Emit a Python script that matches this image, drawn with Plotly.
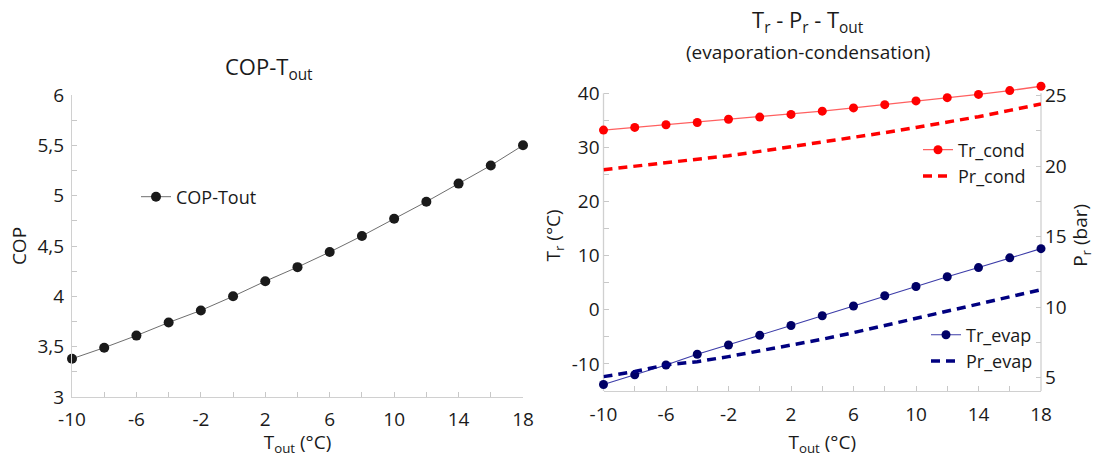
import plotly.graph_objects as go

W, H = 1101, 457

t_out = [-10, -8, -6, -4, -2, 0, 2, 4, 6, 8, 10, 12, 14, 16, 18]
cop = [3.38, 3.49, 3.61, 3.74, 3.86, 4.00, 4.15, 4.29, 4.44, 4.60, 4.77, 4.94, 5.12, 5.30, 5.50]
tr_cond = [33.2, 33.7, 34.2, 34.6, 35.2, 35.6, 36.1, 36.7, 37.3, 37.9, 38.6, 39.2, 39.8, 40.5, 41.3]
pr_cond = [19.75, 19.99, 20.22, 20.48, 20.74, 21.05, 21.38, 21.69, 22.02, 22.38, 22.75, 23.13, 23.51, 23.96, 24.41]
tr_evap = [-13.8, -12.0, -10.2, -8.2, -6.5, -4.7, -2.9, -1.1, 0.7, 2.6, 4.3, 6.1, 7.8, 9.6, 11.3]
pr_evap = [5.07, 5.43, 5.90, 6.13, 6.49, 6.89, 7.29, 7.72, 8.19, 8.69, 9.18, 9.68, 10.20, 10.72, 11.24]

x_ticks = list(range(-10, 19, 2))
x_labels = [str(v) if (v + 10) % 4 == 0 else "" for v in x_ticks]
cop_ticks = [3 + 0.25 * i for i in range(13)]
cop_labels = [(("%g" % v).replace(".", ",") if (v * 2) % 1 == 0 else "") for v in cop_ticks]
tr_ticks = list(range(-15, 41, 5))
tr_labels = [str(v) if v % 10 == 0 else "" for v in tr_ticks]
pr_ticks = [5 + 2.5 * i for i in range(9)]
pr_labels = [("%g" % v if v % 5 == 0 else "") for v in pr_ticks]

# axis extents (drawn axis lines stop at these values)
TR_MIN, TR_MAX = -15, 40
PR_MIN = 4.05

FONT = "Open Sans"
AX_LINE = "#d0d0d0"
TICK_C = "#c8c8c8"
TXT = "#1a1a1a"
TICK_SIZE = 19
AXT_SIZE = 19


def px(x):
    return x / W


def py(y):
    return 1 - y / H


fig = go.Figure()

fig.add_trace(go.Scatter(
    x=t_out, y=cop, name="COP-Tout", mode="lines+markers",
    line=dict(color="#6e6e6e", width=1),
    marker=dict(color="#1a1a1a", size=10),
    cliponaxis=False, xaxis="x", yaxis="y", legend="legend"))

fig.add_trace(go.Scatter(
    x=t_out, y=tr_cond, name="Tr_cond", mode="lines+markers",
    line=dict(color="#ff6060", width=1.3),
    marker=dict(color="#ff0000", size=9),
    cliponaxis=False, xaxis="x2", yaxis="y2", legend="legend2"))
fig.add_trace(go.Scatter(
    x=t_out, y=pr_cond, name="Pr_cond", mode="lines",
    line=dict(color="#ff0000", width=3.5, dash="9px,6px"),
    cliponaxis=False, xaxis="x2", yaxis="y3", legend="legend2"))
fig.add_trace(go.Scatter(
    x=t_out, y=tr_evap, name="Tr_evap", mode="lines+markers",
    line=dict(color="#3c3ca8", width=1.1),
    marker=dict(color="#000066", size=9),
    cliponaxis=False, xaxis="x2", yaxis="y2", legend="legend3"))
fig.add_trace(go.Scatter(
    x=t_out, y=pr_evap, name="Pr_evap", mode="lines",
    line=dict(color="#000080", width=3.5, dash="9px,6px"),
    cliponaxis=False, xaxis="x2", yaxis="y3", legend="legend3"))

axis_common = dict(
    showgrid=False, zeroline=False, showline=True, linecolor=AX_LINE, linewidth=1.3,
    ticks="inside", ticklen=5, tickcolor=TICK_C, tickwidth=1, automargin=False,
    tickfont=dict(family=FONT, size=TICK_SIZE, color=TXT), tickmode="array",
)

# right subplot: the plotting area extends a little above 40 °C so the top
# markers are not hidden; the axis lines are drawn only up to 40 °C
px_per_tr = (391 - 93.3) / (TR_MAX - TR_MIN)
tr_top = TR_MAX + 2.5
top_px = 93.3 - 2.5 * px_per_tr
pr_per_px = 1 / 14.1
pr_top = 25.17 + (93.3 - top_px) * pr_per_px

fig.update_layout(
    width=W, height=H,
    margin=dict(l=0, r=0, t=0, b=0),
    paper_bgcolor="white", plot_bgcolor="white",
    font=dict(family=FONT, color=TXT),
    xaxis=dict(axis_common, domain=[px(72), px(523)], range=[-10, 18], anchor="y",
               tickvals=x_ticks, ticktext=x_labels, ticklabelstandoff=5,
               title=dict(text="T<sub>out</sub> (°C)", font=dict(size=AXT_SIZE), standoff=8)),
    yaxis=dict(axis_common, domain=[py(397), py(95)], range=[3, 6], anchor="x",
               tickvals=cop_ticks, ticktext=cop_labels, ticklabelstandoff=3,
               title=dict(text="COP", font=dict(size=AXT_SIZE), standoff=5)),
    xaxis2=dict(axis_common, domain=[px(603.5), px(1041)], range=[-10, 18], anchor="y2",
                tickvals=x_ticks, ticktext=x_labels, ticklabelstandoff=6,
                title=dict(text="T<sub>out</sub> (°C)", font=dict(size=AXT_SIZE), standoff=10)),
    yaxis2=dict(axis_common, domain=[py(391), py(top_px)], range=[TR_MIN, tr_top], anchor="x2",
                showline=False,
                tickvals=tr_ticks, ticktext=tr_labels, ticklabelstandoff=3,
                title=dict(text="T<sub>r</sub> (°C)", font=dict(size=AXT_SIZE), standoff=5)),
    yaxis3=dict(axis_common, overlaying="y2", side="right", anchor="x2", showline=False,
                range=[PR_MIN, pr_top], tickvals=pr_ticks, ticktext=pr_labels, ticklabelstandoff=3,
                title=dict(text="P<sub>r</sub> (bar)", font=dict(size=AXT_SIZE), standoff=5)),
    shapes=[
        dict(type="line", xref="x2 domain", x0=0, x1=0, yref="y2", y0=TR_MIN, y1=TR_MAX,
             line=dict(color=AX_LINE, width=1.3), layer="below"),
        dict(type="line", xref="x2 domain", x0=1, x1=1, yref="y2", y0=TR_MIN, y1=TR_MAX,
             line=dict(color=AX_LINE, width=1.3), layer="below"),
    ],
    legend=dict(x=px(136), y=py(197), xanchor="left", yanchor="middle",
                bgcolor="rgba(0,0,0,0)", font=dict(family=FONT, size=18, color=TXT)),
    legend2=dict(x=px(918), y=py(163), xanchor="left", yanchor="middle",
                 bgcolor="rgba(0,0,0,0)", font=dict(family=FONT, size=18, color=TXT)),
    legend3=dict(x=px(926), y=py(348), xanchor="left", yanchor="middle",
                 bgcolor="rgba(0,0,0,0)", font=dict(family=FONT, size=18, color=TXT)),
    annotations=[
        dict(text="COP-T<sub>out</sub>", x=px(269), y=py(68), xref="paper", yref="paper",
             showarrow=False, xanchor="center", yanchor="middle",
             font=dict(family=FONT, size=22, color=TXT)),
        dict(text="T<sub>r</sub> - P<sub>r</sub> - T<sub>out</sub>", x=px(808), y=py(21),
             xref="paper", yref="paper", showarrow=False, xanchor="center", yanchor="middle",
             font=dict(family=FONT, size=22, color=TXT)),
        dict(text="(evaporation-condensation)", x=px(808), y=py(52),
             xref="paper", yref="paper", showarrow=False, xanchor="center", yanchor="middle",
             font=dict(family=FONT, size=19, color=TXT)),
    ],
    showlegend=True,
)

fig.write_html("out.html", config={"displayModeBar": False},
               post_script="document.body.style.margin='0px';")
